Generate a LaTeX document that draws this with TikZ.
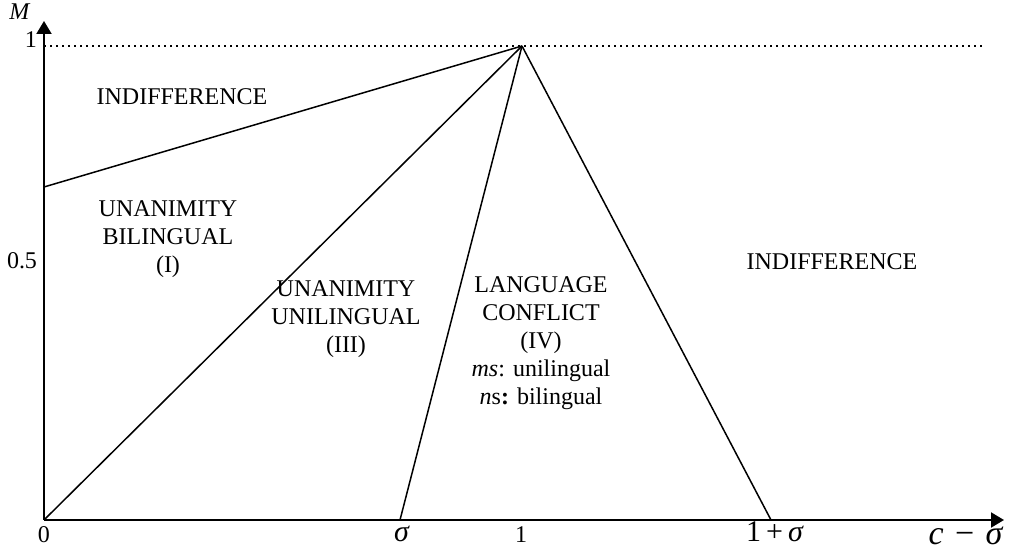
\documentclass[tikz,border=0pt]{standalone}
\usepackage{fontspec}
\setmainfont{Liberation Serif}
\usetikzlibrary{arrows.meta}
\begin{document}
\begin{tikzpicture}[x=0.5pt,y=-0.5pt,
  axis/.style={line width=1pt,-{Triangle[length=6.5pt,width=7.5pt]}},
  bnd/.style={line width=0.75pt},
  lbl/.style={font=\fontsize{12}{14}\selectfont,align=center,inner sep=0pt},
  tick/.style={font=\fontsize{12}{14}\selectfont,inner sep=0pt},
  btick/.style={tick,anchor=base}]
\useasboundingbox (0,0) rectangle (1009,550);
\coordinate (O) at (44,520);
\coordinate (ytop) at (44,21);
\coordinate (xend) at (1004,520);
\coordinate (P) at (522,46);
\coordinate (Y0) at (44,187);
\coordinate (S) at (400,520);
\coordinate (T) at (771,520);
\coordinate (D0) at (44,46);
\coordinate (D1) at (984,46);
\draw[line width=1pt,dotted] (D0) -- (D1);
\draw[axis] (O) -- (ytop);
\draw[axis] (O) -- (xend);
\draw[bnd] (Y0) -- (P);
\draw[bnd] (O) -- (P);
\draw[bnd] (S) -- (P);
\draw[bnd] (P) -- (T);
\node[tick] (lM) at (20,12) {\textit{M}};
\node[tick] (l1) at (31,40) {1};
\node[tick] (l05) at (22,261) {0.5};
\node[btick] (x0) at (44,543) {0};
\node[btick,font=\fontsize{15}{16}\selectfont] (xs) at (402,542) {\textit{σ}};
\node[btick] (x1) at (521,543) {1};
\node[btick,font=\fontsize{15}{16}\selectfont] (x1s) at (775,542) {1\,+\,\textit{σ}};
\node[btick,font=\fontsize{17}{19}\selectfont] (xc) at (966,545) {\textit{c}\,\,−\,\,\textit{σ}};
\node[lbl] (ind1) at (182,97) {INDIFFERENCE};
\node[lbl] (ub) at (168,239) {UNANIMITY\\BILINGUAL\\(I)};
\node[lbl] (uu) at (346,319) {UNANIMITY\\UNILINGUAL\\(III)};
\node[lbl] (lc) at (541,343) {LANGUAGE\\CONFLICT\\(IV)\\\textit{ms}: unilingual\\\textit{n}s\textbf{:} bilingual};
\node[lbl] (ind2) at (832,262) {INDIFFERENCE};
\end{tikzpicture}
\end{document}
